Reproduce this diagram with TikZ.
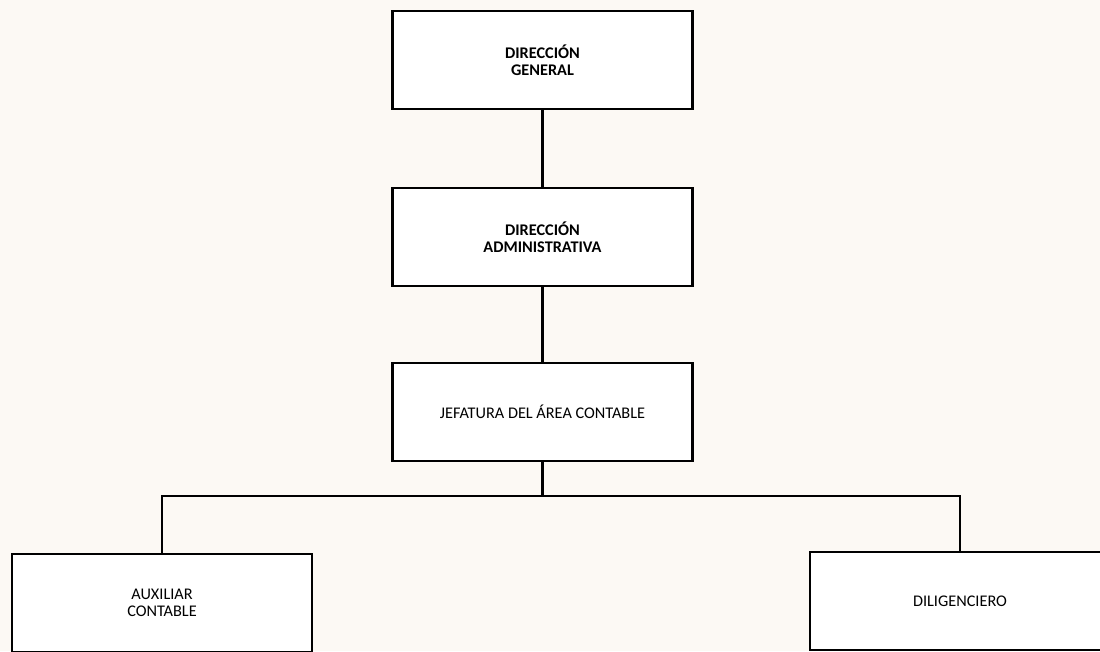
\documentclass[tikz,border=0pt]{standalone}
\usepackage{fontspec}
\setmainfont{Carlito}
\usetikzlibrary{positioning}

\begin{document}
\begin{tikzpicture}[x=0.75pt,y=-0.75pt,line width=1.6pt,
    every node/.style = {shape=rectangle, draw, fill=white, align=center,
    minimum width=225pt, minimum height=74pt, inner sep=2pt,
    font=\fontsize{12.2}{12.8}\selectfont},
    cbold/.style={font=\fontsize{12.2}{12.8}\selectfont\bfseries}]
    \path[use as bounding box, fill={rgb,255:red,252;green,249;blue,244}] (0,0) rectangle (1100,651);
    \clip (0,0) rectangle (1100,651);
    \node[cbold] (dg) at (542.5, 60) {DIRECCIÓN\\GENERAL};
    \node[cbold] (da) at (542.5, 237) {DIRECCIÓN\\ADMINISTRATIVA};
    \node (jc) at (542.5, 412) {JEFATURA DEL ÁREA CONTABLE};
    \node (ac) at (162, 603) {AUXILIAR\\CONTABLE};
    \node (dil) at (960, 601) {DILIGENCIERO};
    \coordinate (bus) at (542.5, 496);
    \draw (dg) -- (da);
    \draw (da) -- (jc);
    \draw (jc) -- (bus);
    \draw (bus) -| (ac);
    \draw (bus) -| (dil);
\end{tikzpicture}
\end{document}
